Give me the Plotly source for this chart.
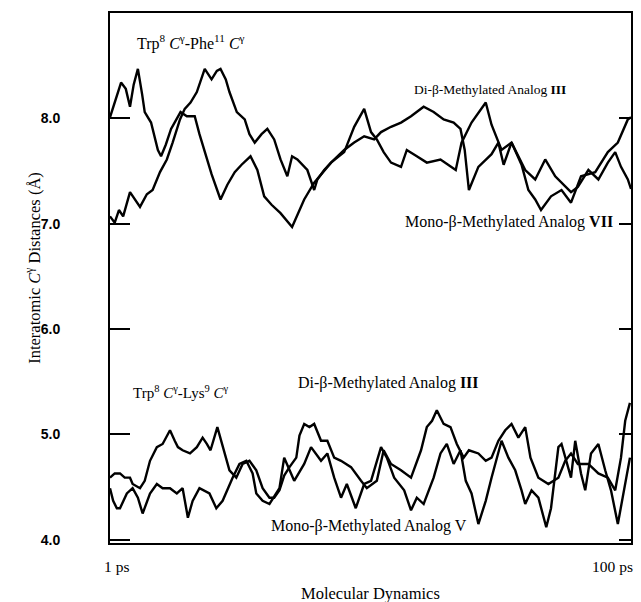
import plotly.graph_objects as go

# ---------------- data (time in ps, distance in Å) ----------------
phe_di_t = [1.0, 2.1, 3.1, 4.0, 4.8, 5.5, 6.3, 7.1, 7.6, 8.8, 10.1, 10.7, 11.6, 12.6, 13.7, 14.4,
            15.6, 17.1, 18.0, 19.0, 20.3, 22.0, 23.3, 24.7, 26.0, 27.7, 29.0, 30.3, 31.7, 33.4,
            35.6, 37.9, 39.8, 43.0, 45.5, 47.4, 49.3, 50.6, 51.7, 53.0, 54.4, 56.3, 57.4, 59.3,
            61.2, 63.8, 66.7, 67.8, 69.7, 72.4, 73.5, 75.4, 77.3, 78.6, 79.9, 81.8, 83.7, 85.6,
            87.5, 88.6, 89.9, 91.9, 93.8, 95.6, 97.0, 98.1, 99.4, 100.0]
phe_di_d = [8.01, 8.18, 8.34, 8.28, 8.11, 8.32, 8.47, 8.23, 8.06, 7.96, 7.70, 7.64, 7.75, 7.90, 7.99, 8.06,
            8.02, 8.02, 7.85, 7.68, 7.47, 7.23, 7.37, 7.49, 7.56, 7.64, 7.51, 7.26, 7.18, 7.10,
            6.97, 7.23, 7.39, 7.58, 7.68, 7.92, 8.09, 7.87, 7.80, 7.68, 7.58, 7.54, 7.70, 7.64,
            7.58, 7.61, 7.51, 7.77, 7.96, 8.15, 7.94, 7.70, 7.77, 7.64, 7.51, 7.42, 7.61, 7.45,
            7.35, 7.30, 7.35, 7.51, 7.42, 7.58, 7.68, 7.54, 7.42, 7.33]

phe_mono_t = [1.0, 1.9, 2.7, 3.5, 4.8, 5.7, 6.7, 8.0, 9.1, 10.5, 11.8, 12.9, 14.3, 15.2, 16.3, 17.5,
              19.0, 20.3, 21.3, 22.0, 23.0, 23.7, 25.1, 26.6, 27.5, 28.5, 29.8, 30.9, 32.2, 33.4,
              34.7, 35.6, 36.6, 38.5, 39.8, 40.4, 41.7, 43.0, 45.5, 47.4, 49.3, 51.2, 52.5, 54.4,
              56.3, 58.2, 60.6, 62.5, 64.4, 66.3, 67.6, 68.4, 69.2, 71.0, 73.5, 74.8, 75.8, 77.3,
              79.2, 80.5, 81.8, 82.9, 84.8, 86.8, 88.6, 90.5, 93.2, 95.6, 97.5, 99.4, 100.0]
phe_mono_d = [7.07, 7.01, 7.13, 7.07, 7.30, 7.23, 7.16, 7.28, 7.32, 7.49, 7.61, 7.77, 7.99, 8.09, 8.15, 8.25,
              8.47, 8.37, 8.45, 8.47, 8.37, 8.25, 8.06, 7.99, 7.85, 7.77, 7.85, 7.90, 7.80, 7.61,
              7.45, 7.64, 7.61, 7.51, 7.32, 7.42, 7.51, 7.58, 7.70, 7.77, 7.83, 7.80, 7.87, 7.92,
              7.96, 8.02, 8.11, 8.06, 7.99, 7.96, 7.90, 7.70, 7.32, 7.54, 7.66, 7.77, 7.56, 7.77,
              7.56, 7.32, 7.23, 7.13, 7.26, 7.32, 7.20, 7.45, 7.49, 7.68, 7.77, 7.99, 8.01]

lys_di_t = [1.0, 1.9, 2.9, 3.8, 4.8, 5.3, 6.7, 7.6, 8.6, 9.9, 11.0, 12.4, 13.3, 13.9, 14.8, 16.2,
            17.5, 18.6, 19.4, 20.1, 21.4, 22.4, 23.7, 25.0, 26.2, 27.5, 28.8, 30.0, 31.3, 32.2,
            33.2, 34.1, 35.1, 36.4, 37.0, 37.9, 38.9, 39.8, 41.1, 42.3, 43.6, 44.9, 46.8, 48.7,
            49.8, 51.7, 53.0, 54.4, 56.3, 58.2, 60.1, 61.2, 62.2, 63.1, 64.4, 65.7, 66.9, 68.2,
            69.2, 71.0, 72.4, 73.5, 74.8, 76.1, 77.3, 78.6, 79.9, 80.9, 82.4, 84.3, 86.2, 87.5,
            88.6, 89.9, 91.9, 93.8, 95.6, 97.0, 98.1, 98.9, 99.8]
lys_di_d = [4.59, 4.63, 4.63, 4.59, 4.59, 4.53, 4.49, 4.56, 4.75, 4.88, 4.91, 5.04, 4.94, 4.88, 4.85, 4.82,
            4.88, 4.97, 4.91, 4.85, 5.07, 4.88, 4.66, 4.59, 4.72, 4.75, 4.66, 4.49, 4.40, 4.40,
            4.47, 4.61, 4.69, 4.78, 4.99, 5.10, 5.07, 5.10, 4.94, 4.94, 4.78, 4.75, 4.69, 4.56,
            4.49, 4.56, 4.85, 4.72, 4.66, 4.59, 4.85, 5.07, 5.13, 5.23, 5.10, 5.07, 4.91, 4.78,
            4.85, 4.82, 4.75, 4.78, 4.94, 5.04, 5.10, 4.97, 5.07, 4.78, 4.59, 4.53, 4.59, 4.75,
            4.82, 4.72, 4.72, 4.63, 4.59, 4.47, 4.78, 5.13, 5.30]

lys_mono_t = [1.0, 1.6, 2.3, 2.9, 4.2, 5.3, 6.3, 7.2, 8.6, 9.9, 11.0, 12.4, 13.7, 14.8, 15.8, 16.7,
              18.0, 19.9, 21.2, 22.4, 24.3, 25.6, 26.9, 28.1, 28.8, 30.0, 31.3, 33.2, 34.1, 35.1,
              36.0, 37.9, 39.2, 41.1, 42.3, 43.6, 44.9, 46.0, 47.7, 49.3, 50.6, 52.5, 53.6, 55.0,
              56.9, 58.2, 59.3, 60.6, 62.5, 63.8, 65.0, 66.3, 67.6, 68.6, 69.7, 71.0, 72.4, 73.5,
              75.4, 76.7, 78.0, 79.2, 79.9, 81.1, 82.4, 83.9, 84.8, 86.2, 86.8, 88.6, 89.4, 90.5,
              91.3, 92.4, 93.8, 95.1, 96.2, 97.5, 98.9, 99.8]
lys_mono_d = [4.49, 4.37, 4.30, 4.30, 4.44, 4.49, 4.40, 4.25, 4.44, 4.53, 4.49, 4.49, 4.44, 4.49, 4.21, 4.37,
              4.49, 4.44, 4.30, 4.37, 4.59, 4.72, 4.75, 4.63, 4.44, 4.37, 4.34, 4.49, 4.78, 4.66,
              4.56, 4.72, 4.88, 4.75, 4.82, 4.59, 4.40, 4.53, 4.30, 4.53, 4.56, 4.88, 4.78, 4.59,
              4.47, 4.28, 4.40, 4.34, 4.59, 4.82, 4.91, 4.72, 4.85, 4.56, 4.44, 4.15, 4.37, 4.59,
              4.94, 4.78, 4.66, 4.47, 4.34, 4.47, 4.40, 4.12, 4.30, 4.88, 4.91, 4.59, 4.94, 4.63,
              4.47, 4.82, 4.91, 4.66, 4.47, 4.15, 4.53, 4.78]

y_ticks = [4.0, 5.0, 6.0, 7.0, 8.0]
y_tick_labels = ["4.0", "5.0", "6.0", "7.0", "8.0"]

SERIF = "Liberation Serif, Times New Roman, serif"
SANS = "Liberation Sans, Arial, sans-serif"


def serif(size):
    return dict(family=SERIF, size=size, color="black")


fig = go.Figure()
for tx, dy in [(phe_di_t, phe_di_d), (phe_mono_t, phe_mono_d),
               (lys_di_t, lys_di_d), (lys_mono_t, lys_mono_d)]:
    fig.add_trace(go.Scatter(x=tx, y=dy, mode="lines",
                             line=dict(color="black", width=2.4), showlegend=False,
                             hoverinfo="skip"))
# empty trace to carry the right-hand tick axis
fig.add_trace(go.Scatter(x=[], y=[], yaxis="y2", showlegend=False))

NB = "\u00a0"
annots = [
    dict(x=0.155, y=0.945, f=serif(16),
         text=f"Trp<sup>8</sup>{NB}<i>C</i><sup>γ</sup>-Phe<sup>11</sup>{NB}<i>C</i><sup>γ</sup>"),
    dict(x=0.73, y=0.855, f=serif(13.5), text="Di-β-Methylated Analog <b>III</b>"),
    dict(x=0.765, y=0.606, f=serif(16), text="Mono-β-Methylated Analog <b>VII</b>"),
    dict(x=0.135, y=0.285, f=serif(15),
         text=f"Trp<sup>8</sup>{NB}<i>C</i><sup>γ</sup>-Lys<sup>9</sup>{NB}<i>C</i><sup>γ</sup>"),
    dict(x=0.535, y=0.302, f=serif(16), text="Di-β-Methylated Analog <b>III</b>"),
    dict(x=0.497, y=0.033, f=serif(16), text="Mono-β-Methylated Analog V"),
]
for a in annots:
    fig.add_annotation(xref="paper", yref="paper", x=a["x"], y=a["y"], text=a["text"],
                       showarrow=False, font=a["f"], xanchor="center", yanchor="middle")

fig.add_annotation(xref="paper", yref="paper", x=-0.015, y=-0.045, text="1 ps",
                   showarrow=False, font=serif(15.5), xanchor="left", yanchor="middle")
fig.add_annotation(xref="paper", yref="paper", x=1.008, y=-0.045, text="100 ps",
                   showarrow=False, font=serif(15.5), xanchor="right", yanchor="middle")
fig.add_annotation(xref="paper", yref="paper", x=0.5, y=-0.096, text="Molecular Dynamics",
                   showarrow=False, font=serif(16.5), xanchor="center", yanchor="middle")
fig.add_annotation(xref="paper", yref="paper", x=-0.147, y=0.52, textangle=-90,
                   text="Interatomic <i>C</i><sup>γ</sup> Distances (Å)",
                   showarrow=False, font=serif(16.5), xanchor="center", yanchor="middle")

fig.update_layout(
    width=641, height=602,
    margin=dict(l=110, r=8, t=13, b=59),
    paper_bgcolor="white", plot_bgcolor="white",
    xaxis=dict(range=[1, 100], showgrid=False, zeroline=False, showticklabels=False,
               ticks="", showline=True, mirror=True, linecolor="black", linewidth=2),
    yaxis=dict(range=[3.97, 9.0], tickvals=y_ticks, ticktext=y_tick_labels,
               showgrid=False, zeroline=False, ticks="inside", ticklen=20, tickwidth=2,
               tickcolor="black", showline=True, mirror=True, linecolor="black", linewidth=2,
               tickfont=dict(family=SANS, size=14, color="black", weight="bold"),
               ticklabelstandoff=45),
    yaxis2=dict(range=[3.97, 9.0], overlaying="y", side="right", tickvals=y_ticks,
                showticklabels=False, ticks="inside", ticklen=12, tickwidth=2,
                tickcolor="black", showgrid=False, zeroline=False, showline=False),
)

fig.write_html("out.html", config={"displayModeBar": False},
               post_script="document.body.style.margin='0';document.body.style.padding='0';")
